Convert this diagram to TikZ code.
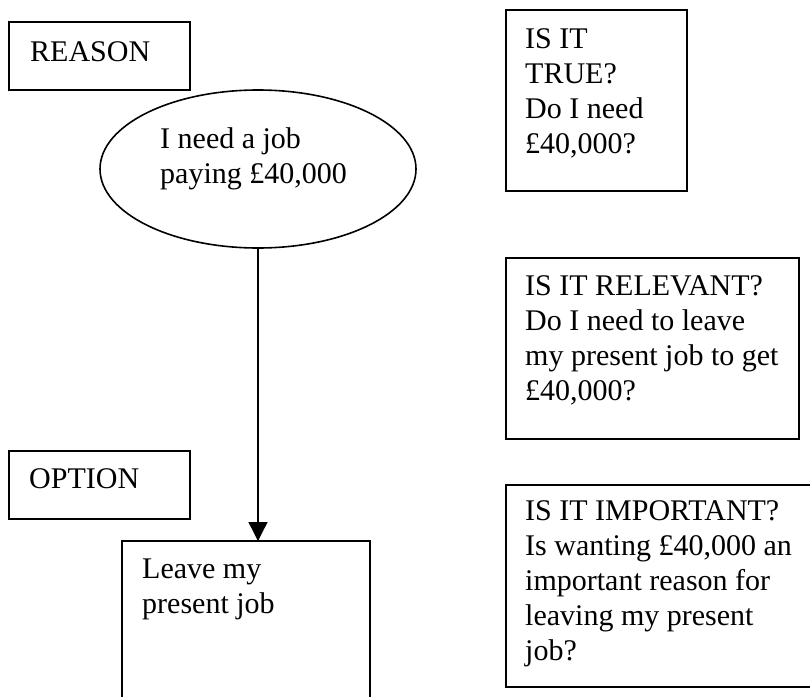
\documentclass[tikz,border=0pt]{standalone}
\usepackage{fontspec}
\setmainfont{Liberation Serif}
\usetikzlibrary{shapes.geometric,arrows.meta}
\begin{document}
\begin{tikzpicture}[x=1pt,y=-1pt,
        box/.style={draw,line width=1.6pt,anchor=north west,inner sep=0pt,outer sep=0pt},
        bubble/.style={draw,ellipse,line width=1.6pt,inner sep=0pt,outer sep=0pt},
        words/.style={anchor=north west,inner sep=0pt,align=left,font=\fontsize{30}{35}\selectfont}]
                \clip (0,0) rectangle (810,696);

                \node[box,minimum width=181pt,minimum height=68pt] (reason) at (9,22) {};
                \node[words] (reasontext) at (30,41) {REASON};
                \node[bubble,minimum width=316pt,minimum height=158pt] (need) at (258,169) {};
                \node[words] (needtext) at (160,127) {I need a job\\paying £40,000};

                \node[box,minimum width=181pt,minimum height=68pt] (option) at (9,451) {};
                \node[words] (optiontext) at (29,468) {OPTION};
                \node[box,minimum width=248pt,minimum height=200pt] (leave) at (122,541) {};
                \node[words] (leavetext) at (142,559) {Leave my\\present job};

                \node[box,minimum width=181pt,minimum height=181pt] (true) at (506,10) {};
                \node[words] (truetext) at (525,28) {IS IT\\TRUE?\\Do I need\\£40,000?};
                \node[box,minimum width=293pt,minimum height=181pt] (relevant) at (506,258) {};
                \node[words] (relevanttext) at (525,275) {IS IT RELEVANT?\\Do I need to leave\\my present job to get\\£40,000?};
                \node[box,minimum width=330pt,minimum height=202pt] (important) at (506,485) {};
                \node[words] (importanttext) at (525,500) {IS IT IMPORTANT?\\Is wanting £40,000 an\\important reason for\\leaving my present\\job?};

                \draw[line width=1.3pt,-{Triangle[length=19pt,width=19pt]}] (need.south) -- (need.south |- leave.north);
            \end{tikzpicture}
\end{document}
